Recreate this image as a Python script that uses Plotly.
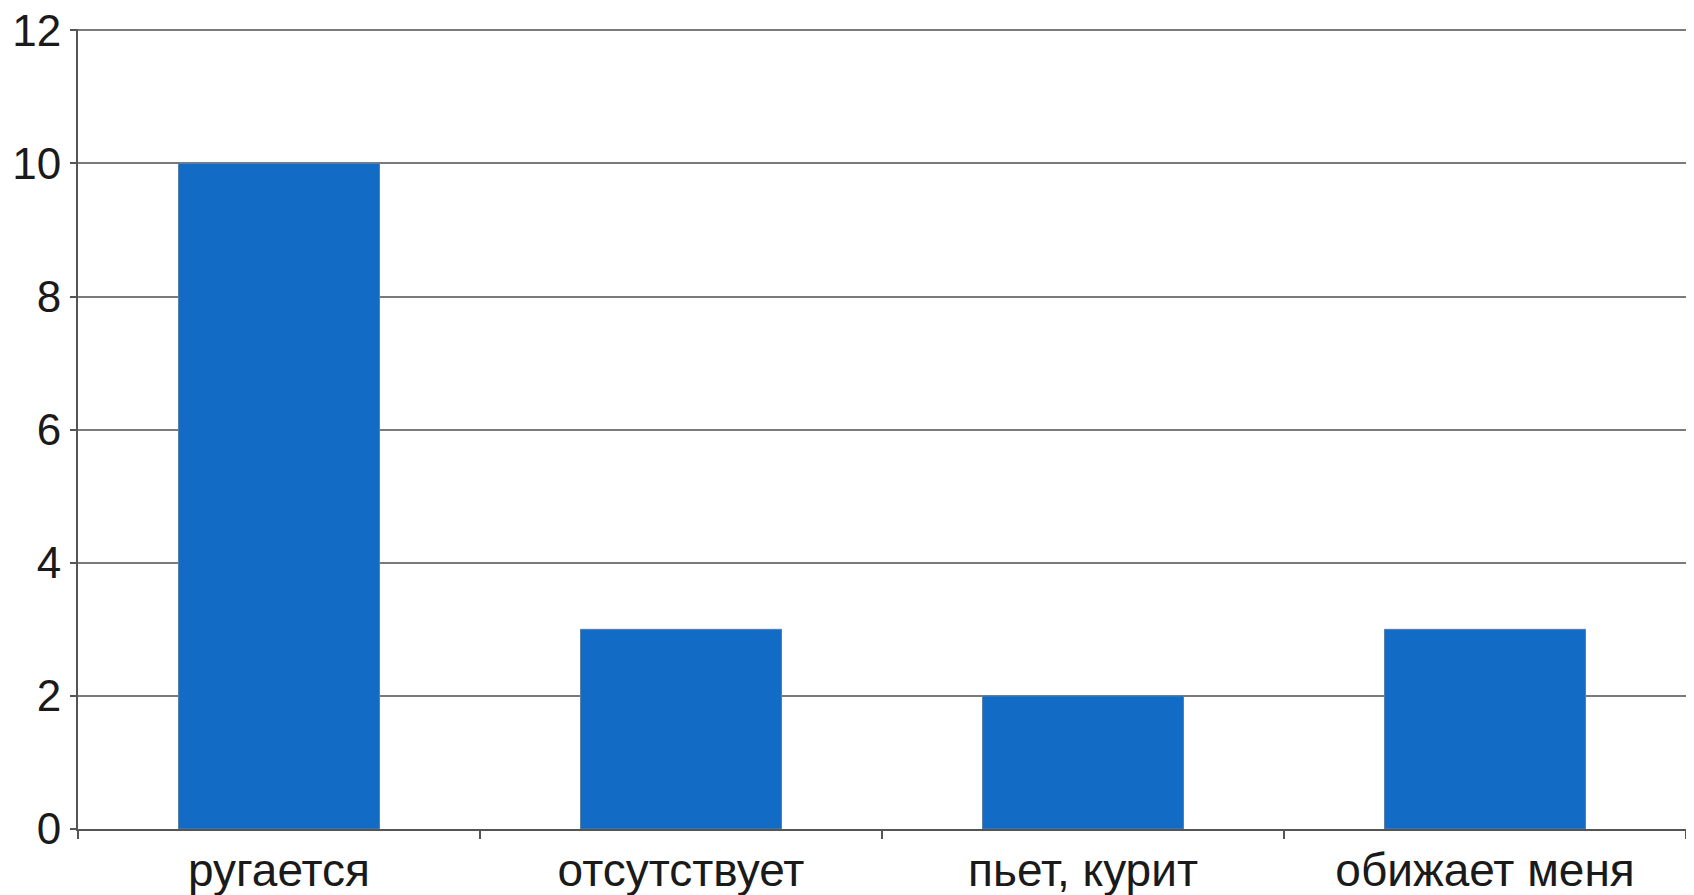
import plotly.graph_objects as go

categories = ["ругается", "отсутствует", "пьет, курит", "обижает меня"]
values = [10, 3, 2, 3]
y_ticks = [0, 2, 4, 6, 8, 10, 12]

fig = go.Figure()
fig.add_trace(go.Bar(
    x=categories, y=values,
    marker=dict(color="#126CC5", line=dict(color="#5a7fa8", width=1)),
    width=0.5,
))

fig.update_layout(
    width=1686, height=887,
    margin=dict(l=70, r=8, t=21, b=66),
    paper_bgcolor="white", plot_bgcolor="white",
    showlegend=False,
    font=dict(family="Liberation Sans, Arial, sans-serif", color="#1a1a1a", size=46),
)
fig.update_xaxes(
    type="category",
    tickson="boundaries",
    ticks="outside", ticklen=8, tickwidth=2, tickcolor="#555555",
    showline=True, linecolor="#555555", linewidth=2,
    showgrid=False,
    automargin=False,
    ticklabeloverflow="allow",
    tickfont=dict(size=46),
)
fig.update_yaxes(
    range=[0, 12.02], tickvals=y_ticks,
    ticks="outside", ticklen=6, tickwidth=2, tickcolor="#555555",
    showline=True, linecolor="#555555", linewidth=2,
    showgrid=True, gridcolor="#7a7a7a", gridwidth=2,
    zeroline=False,
    automargin=False,
    ticklabeloverflow="allow",
    tickfont=dict(size=44),
)

fig.write_html("out.html")
